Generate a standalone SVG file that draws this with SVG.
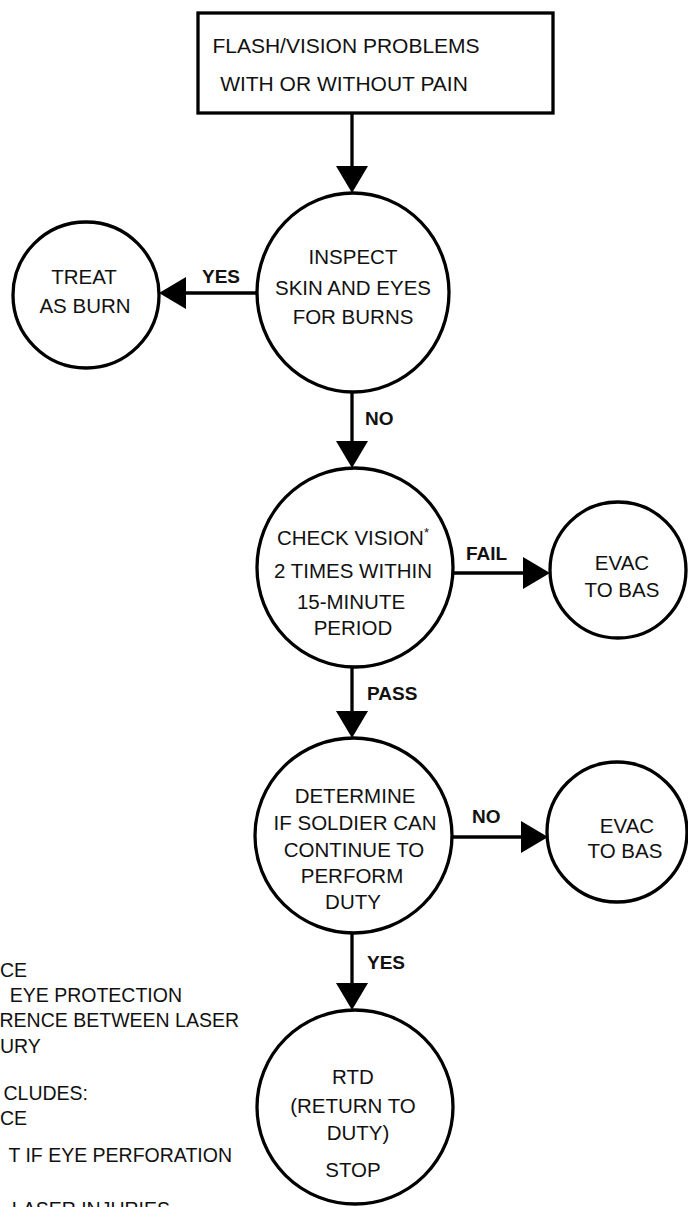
<svg xmlns="http://www.w3.org/2000/svg" width="688" height="1207" viewBox="0 0 688 1207">
<defs>
<style>
.node{fill:#fff;stroke:#000;stroke-width:3.3}
.t{font-family:"Liberation Sans",Arial,sans-serif;font-size:20.5px;fill:#111;text-anchor:middle}
.lbl{font-family:"Liberation Sans",Arial,sans-serif;font-size:19px;font-weight:bold;fill:#111}
.note{font-family:"Liberation Sans",Arial,sans-serif;font-size:19.5px;fill:#111;text-anchor:end}
.ns{font-family:"Liberation Sans",Arial,sans-serif;font-size:19.5px;fill:#111;text-anchor:start}
.c{fill:none;stroke:#000;stroke-width:3.3}
</style>
<marker id="ah" markerUnits="userSpaceOnUse" markerWidth="30" markerHeight="32" viewBox="0 0 30 32" refX="17" refY="16" orient="auto">
<path d="M0,0 L27,16 L0,32 Z" fill="#000"/>
</marker>
</defs>
<rect width="688" height="1207" fill="#fff"/>

<g id="connectors">
<line class="c" x1="352" y1="113" x2="352" y2="183" marker-end="url(#ah)"/>
<line class="c" x1="257" y1="293" x2="169" y2="293" marker-end="url(#ah)"/>
<line class="c" x1="352" y1="392" x2="352" y2="458" marker-end="url(#ah)"/>
<line class="c" x1="453" y1="573" x2="540" y2="573" marker-end="url(#ah)"/>
<line class="c" x1="352" y1="667" x2="352" y2="728" marker-end="url(#ah)"/>
<line class="c" x1="452" y1="837" x2="538" y2="837" marker-end="url(#ah)"/>
<line class="c" x1="352" y1="933" x2="352" y2="1000" marker-end="url(#ah)"/>
<text class="lbl" x="202" y="283">YES</text>
<text class="lbl" x="365" y="425">NO</text>
<text class="lbl" x="466" y="560">FAIL</text>
<text class="lbl" x="367" y="700">PASS</text>
<text class="lbl" x="472" y="823">NO</text>
<text class="lbl" x="367" y="969">YES</text>
</g>

<g id="start">
<rect class="node" x="198" y="13" width="355" height="100"/>
<text class="t" x="346" y="53" style="font-size:21px">FLASH/VISION PROBLEMS</text>
<text class="t" x="344" y="91" style="font-size:21px">WITH OR WITHOUT PAIN</text>
</g>

<g id="inspect">
<ellipse class="node" cx="353" cy="292.5" rx="96" ry="99.5"/>
<text class="t" x="353" y="264">INSPECT</text>
<text class="t" x="353" y="295">SKIN AND EYES</text>
<text class="t" x="353" y="324">FOR BURNS</text>
</g>

<g id="treat">
<circle class="node" cx="86" cy="295" r="73"/>
<text class="t" x="84" y="284">TREAT</text>
<text class="t" x="85" y="313">AS BURN</text>
</g>

<g id="check">
<ellipse class="node" cx="355" cy="567.5" rx="98" ry="99.5"/>
<text class="t" x="353" y="545">CHECK  VISION<tspan style="font-size:13px" dy="-8">*</tspan></text>
<text class="t" x="353" y="578">2 TIMES WITHIN</text>
<text class="t" x="351" y="609">15-MINUTE</text>
<text class="t" x="353" y="635">PERIOD</text>
</g>

<g id="evac1">
<circle class="node" cx="618" cy="570" r="68"/>
<text class="t" x="622" y="570">EVAC</text>
<text class="t" x="622" y="597">TO BAS</text>
</g>

<g id="determine">
<ellipse class="node" cx="353.5" cy="835.5" rx="98.5" ry="97.5"/>
<text class="t" x="355" y="803">DETERMINE</text>
<text class="t" x="355" y="830">IF SOLDIER  CAN</text>
<text class="t" x="354" y="857">CONTINUE TO</text>
<text class="t" x="352" y="883">PERFORM</text>
<text class="t" x="353" y="909">DUTY</text>
</g>

<g id="evac2">
<circle class="node" cx="617" cy="832" r="70"/>
<text class="t" x="627" y="833">EVAC</text>
<text class="t" x="625" y="858">TO BAS</text>
</g>

<g id="rtd">
<ellipse class="node" cx="355" cy="1107" rx="98" ry="97"/>
<text class="t" x="353" y="1084">RTD</text>
<text class="t" x="353" y="1113">(RETURN TO</text>
<text class="t" x="358" y="1140">DUTY)</text>
<text class="t" x="353" y="1177">STOP</text>
</g>

<g id="notes">
<text class="ns" x="0" y="977">CE</text>
<text class="note" x="182" y="1002">EYE PROTECTION</text>
<text class="note" x="239" y="1027">RENCE BETWEEN LASER</text>
<text class="ns" x="0" y="1053">URY</text>
<text class="note" x="88" y="1100">CLUDES:</text>
<text class="ns" x="0" y="1125">CE</text>
<text class="note" x="232" y="1162">T IF EYE PERFORATION</text>
<text class="note" x="170" y="1216">LASER INJURIES</text>
</g>
</svg>
